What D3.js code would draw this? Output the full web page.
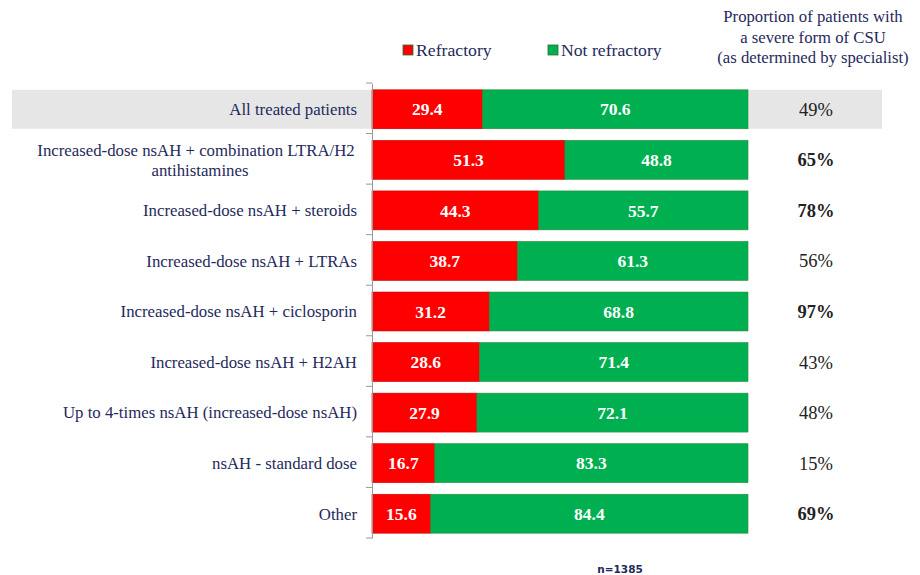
<!DOCTYPE html>
<html><head><meta charset="utf-8">
<script src="https://cdn.jsdelivr.net/npm/d3@7"></script>
<style>body{margin:0;background:#fff}</style>
</head><body>
<svg id="c" width="920" height="575"></svg>
<script>
const categories = [
  "All treated patients",
  "Increased-dose nsAH + combination LTRA/H2 antihistamines",
  "Increased-dose nsAH + steroids",
  "Increased-dose nsAH + LTRAs",
  "Increased-dose nsAH + ciclosporin",
  "Increased-dose nsAH + H2AH",
  "Up to 4-times nsAH (increased-dose nsAH)",
  "nsAH - standard dose",
  "Other"
];
const refractory = [29.4, 51.3, 44.3, 38.7, 31.2, 28.6, 27.9, 16.7, 15.6];
const notRefractory = [70.6, 48.8, 55.7, 61.3, 68.8, 71.4, 72.1, 83.3, 84.4];
const severe = ["49%", "65%", "78%", "56%", "97%", "43%", "48%", "15%", "69%"];
const severeBold = [false, true, true, false, true, false, false, false, true];
const seriesNames = ["Refractory", "Not refractory"];
const colors = ["#ff0000", "#00b050"];

const svg = d3.select("#c");
const serif = "'Liberation Serif','Times New Roman',serif";
const navy = "#1f2a5c";

const x = d3.scaleLinear().domain([0, 100]).range([372, 748]);
const y = d3.scaleBand().domain(categories).range([83, 538]).paddingInner(0.23).paddingOuter(0.115);

// highlight row
svg.append("rect").attr("x", 12).attr("width", 870)
  .attr("y", y(categories[0]) + 1).attr("height", y.bandwidth()).attr("fill", "#e6e6e6");

// bars
const rows = categories.map((c, i) => ({c, r: refractory[i], n: notRefractory[i], i}));
const g = svg.append("g");
rows.forEach(d => {
  const segs = [{v0: 0, v1: d.r, v: d.r, k: 0}, {v0: d.r, v1: Math.min(100, d.r + d.n), v: d.n, k: 1}];
  segs.forEach(s => {
    g.append("rect").attr("x", x(s.v0)).attr("width", x(s.v1) - x(s.v0))
      .attr("y", y(d.c) + 1).attr("height", y.bandwidth())
      .attr("fill", colors[s.k]).attr("stroke", s.k ? "#2e8b3a" : "#c00000").attr("stroke-width", 0.6);
    g.append("text").attr("x", (x(s.v0) + x(s.v1)) / 2).attr("y", y(d.c) + 1 + y.bandwidth() / 2)
      .attr("dy", "0.35em").attr("text-anchor", "middle").attr("fill", "#fff")
      .attr("font-family", serif).attr("font-weight", "bold").attr("font-size", 17.5)
      .text(s.v.toFixed(1));
  });
});

// axis
const axis = d3.axisLeft(y).tickSize(0).tickFormat("");
const ag = svg.append("g").attr("transform", "translate(372,0)").call(axis);
ag.select(".domain").attr("stroke", "#999");
d3.range(categories.length + 1).forEach(k => {
  const yy = 83 + k * (455 / categories.length);
  ag.append("line").attr("x1", -6).attr("x2", 0).attr("y1", yy).attr("y2", yy).attr("stroke", "#999");
});

// category labels
rows.forEach(d => {
  const t = svg.append("text").attr("text-anchor", "middle").attr("fill", navy)
    .attr("font-family", serif).attr("font-size", 16.8);
  const cy = y(d.c) + 1 + y.bandwidth() / 2;
  if (d.i === 1) {
    t.append("tspan").attr("x", 196).attr("y", cy - 10 + 6).text("Increased-dose nsAH + combination LTRA/H2");
    t.append("tspan").attr("x", 200).attr("y", cy + 10 + 6).text("antihistamines");
  } else {
    t.attr("x", 357).attr("y", cy).attr("dy", "0.35em").attr("text-anchor", "end").text(d.c);
  }
});

// severe column
rows.forEach(d => {
  svg.append("text").attr("x", 816).attr("y", y(d.c) + 1 + y.bandwidth() / 2).attr("dy", "0.35em")
    .attr("text-anchor", "middle").attr("fill", "#222")
    .attr("font-family", serif).attr("font-size", 18.5)
    .attr("font-weight", severeBold[d.i] ? "bold" : "normal").text(severe[d.i]);
});

// header
const hdr = ["Proportion of patients with", "a severe form of CSU", "(as determined by specialist)"];
hdr.forEach((h, i) => {
  svg.append("text").attr("x", 813).attr("y", 22 + i * 20.5).attr("text-anchor", "middle")
    .attr("fill", navy).attr("font-family", serif).attr("font-size", 16.7).text(h);
});

// legend
const legX = [403, 548];
seriesNames.forEach((s, i) => {
  svg.append("rect").attr("x", legX[i]).attr("y", 45).attr("width", 10).attr("height", 10)
    .attr("fill", colors[i]).attr("stroke", "#2e6b2e").attr("stroke-width", 0.8);
  svg.append("text").attr("x", legX[i] + 13).attr("y", 56).attr("fill", navy)
    .attr("font-family", serif).attr("font-size", 17.7).text(s);
});

// n
svg.append("text").attr("x", 620).attr("y", 573).attr("text-anchor", "middle").attr("fill", navy)
  .attr("font-family", "'DejaVu Sans',sans-serif").attr("font-weight", "bold").attr("font-size", 10.5)
  .text("n=1385");
</script>
</body></html>
